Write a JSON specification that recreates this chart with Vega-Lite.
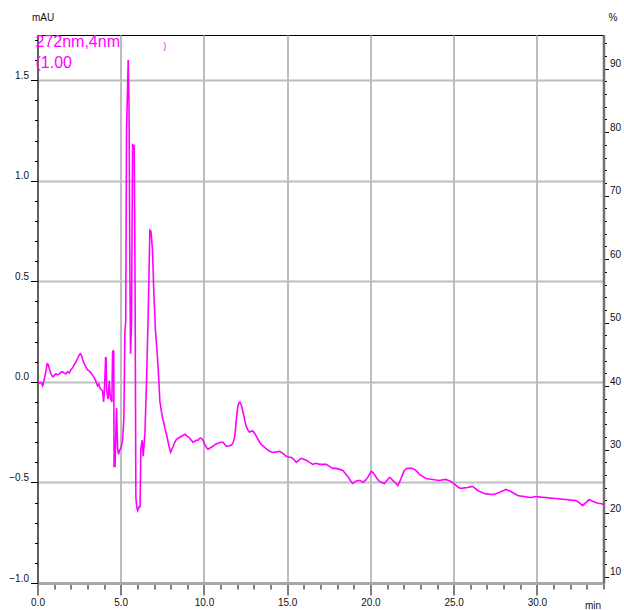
{
  "$schema": "https://vega.github.io/schema/vega-lite/v6.json",
  "width": 566,
  "height": 548,
  "autosize": {"type": "none"},
  "padding": {"left": 37.5, "top": 35, "right": 20.5, "bottom": 27},
  "background": "white",
  "config": {
    "font": "Liberation Sans",
    "view": {"stroke": "black", "strokeWidth": 1}
  },
  "layer": [
    {
      "data": {"values": [
        {"t":0.00,"v":0.005},{"t":0.10,"v":-0.005},{"t":0.21,"v":-0.003},{"t":0.31,"v":-0.02},{"t":0.41,"v":0.015},
        {"t":0.51,"v":0.055},{"t":0.58,"v":0.09},{"t":0.65,"v":0.085},{"t":0.71,"v":0.065},{"t":0.81,"v":0.04},
        {"t":0.88,"v":0.03},{"t":0.95,"v":0.025},{"t":1.03,"v":0.035},{"t":1.11,"v":0.04},{"t":1.20,"v":0.035},
        {"t":1.31,"v":0.04},{"t":1.40,"v":0.048},{"t":1.51,"v":0.05},{"t":1.60,"v":0.045},{"t":1.71,"v":0.04},
        {"t":1.80,"v":0.05},{"t":1.91,"v":0.045},{"t":2.00,"v":0.06},{"t":2.11,"v":0.07},{"t":2.20,"v":0.085},
        {"t":2.31,"v":0.10},{"t":2.40,"v":0.115},{"t":2.51,"v":0.135},{"t":2.58,"v":0.14},{"t":2.65,"v":0.13},
        {"t":2.72,"v":0.11},{"t":2.81,"v":0.09},{"t":2.90,"v":0.075},{"t":3.01,"v":0.06},{"t":3.10,"v":0.055},
        {"t":3.21,"v":0.045},{"t":3.30,"v":0.035},{"t":3.41,"v":0.02},{"t":3.50,"v":0.005},{"t":3.61,"v":-0.02},
        {"t":3.68,"v":-0.01},{"t":3.75,"v":-0.03},{"t":3.85,"v":-0.04},{"t":3.91,"v":-0.045},{"t":3.97,"v":-0.10},
        {"t":4.01,"v":-0.06},{"t":4.05,"v":0.02},{"t":4.09,"v":0.12},{"t":4.12,"v":0.12},{"t":4.15,"v":-0.03},
        {"t":4.20,"v":-0.07},{"t":4.25,"v":-0.085},{"t":4.31,"v":0.005},{"t":4.36,"v":-0.06},{"t":4.42,"v":-0.09},
        {"t":4.47,"v":-0.10},{"t":4.51,"v":0.15},{"t":4.55,"v":0.155},{"t":4.58,"v":0.15},{"t":4.60,"v":-0.42},
        {"t":4.66,"v":-0.42},{"t":4.72,"v":-0.20},{"t":4.75,"v":-0.13},{"t":4.81,"v":-0.33},{"t":4.87,"v":-0.36},
        {"t":4.93,"v":-0.34},{"t":5.01,"v":-0.33},{"t":5.11,"v":-0.29},{"t":5.19,"v":-0.18},{"t":5.25,"v":0.25},
        {"t":5.30,"v":0.30},{"t":5.35,"v":1.26},{"t":5.45,"v":1.60},{"t":5.50,"v":1.36},{"t":5.55,"v":0.54},
        {"t":5.59,"v":0.14},{"t":5.65,"v":0.30},{"t":5.71,"v":1.18},{"t":5.81,"v":1.175},{"t":5.86,"v":0.50},
        {"t":5.91,"v":-0.575},{"t":5.96,"v":-0.62},{"t":6.01,"v":-0.64},{"t":6.06,"v":-0.63},{"t":6.11,"v":-0.62},
        {"t":6.16,"v":-0.62},{"t":6.21,"v":-0.33},{"t":6.29,"v":-0.29},{"t":6.35,"v":-0.37},{"t":6.45,"v":-0.26},
        {"t":6.55,"v":0.0},{"t":6.65,"v":0.34},{"t":6.70,"v":0.54},{"t":6.75,"v":0.755},{"t":6.81,"v":0.75},
        {"t":6.85,"v":0.72},{"t":6.91,"v":0.65},{"t":6.99,"v":0.44},{"t":7.09,"v":0.25},{"t":7.21,"v":0.12},
        {"t":7.28,"v":0.02},{"t":7.35,"v":-0.095},{"t":7.43,"v":-0.14},{"t":7.51,"v":-0.18},{"t":7.58,"v":-0.20},
        {"t":7.65,"v":-0.23},{"t":7.75,"v":-0.26},{"t":7.85,"v":-0.30},{"t":7.93,"v":-0.33},{"t":8.00,"v":-0.35},
        {"t":8.07,"v":-0.335},{"t":8.15,"v":-0.32},{"t":8.24,"v":-0.30},{"t":8.35,"v":-0.285},{"t":8.45,"v":-0.28},
        {"t":8.54,"v":-0.275},{"t":8.65,"v":-0.27},{"t":8.75,"v":-0.265},{"t":8.88,"v":-0.26},{"t":8.98,"v":-0.27},
        {"t":9.07,"v":-0.275},{"t":9.14,"v":-0.28},{"t":9.24,"v":-0.29},{"t":9.34,"v":-0.30},{"t":9.44,"v":-0.295},
        {"t":9.54,"v":-0.29},{"t":9.64,"v":-0.29},{"t":9.74,"v":-0.28},{"t":9.84,"v":-0.28},{"t":9.94,"v":-0.29},
        {"t":10.04,"v":-0.31},{"t":10.14,"v":-0.325},{"t":10.24,"v":-0.335},{"t":10.34,"v":-0.33},{"t":10.44,"v":-0.325},
        {"t":10.54,"v":-0.32},{"t":10.69,"v":-0.31},{"t":10.84,"v":-0.305},{"t":10.99,"v":-0.30},{"t":11.14,"v":-0.30},
        {"t":11.24,"v":-0.31},{"t":11.34,"v":-0.32},{"t":11.49,"v":-0.318},{"t":11.64,"v":-0.315},{"t":11.74,"v":-0.305},
        {"t":11.84,"v":-0.275},{"t":11.90,"v":-0.23},{"t":11.94,"v":-0.19},{"t":11.99,"v":-0.15},{"t":12.04,"v":-0.12},
        {"t":12.10,"v":-0.105},{"t":12.16,"v":-0.10},{"t":12.22,"v":-0.11},{"t":12.28,"v":-0.125},{"t":12.34,"v":-0.15},
        {"t":12.40,"v":-0.17},{"t":12.47,"v":-0.20},{"t":12.54,"v":-0.22},{"t":12.64,"v":-0.24},{"t":12.74,"v":-0.25},
        {"t":12.84,"v":-0.245},{"t":12.94,"v":-0.245},{"t":13.04,"v":-0.255},{"t":13.14,"v":-0.27},{"t":13.24,"v":-0.285},
        {"t":13.34,"v":-0.30},{"t":13.49,"v":-0.315},{"t":13.64,"v":-0.325},{"t":13.79,"v":-0.335},{"t":13.94,"v":-0.345},
        {"t":14.09,"v":-0.35},{"t":14.24,"v":-0.35},{"t":14.39,"v":-0.348},{"t":14.54,"v":-0.345},{"t":14.74,"v":-0.355},
        {"t":14.94,"v":-0.37},{"t":15.09,"v":-0.375},{"t":15.24,"v":-0.375},{"t":15.39,"v":-0.385},{"t":15.54,"v":-0.40},
        {"t":15.69,"v":-0.39},{"t":15.84,"v":-0.38},{"t":15.99,"v":-0.385},{"t":16.14,"v":-0.39},{"t":16.34,"v":-0.40},
        {"t":16.54,"v":-0.41},{"t":16.74,"v":-0.405},{"t":16.94,"v":-0.41},{"t":17.14,"v":-0.41},{"t":17.34,"v":-0.41},
        {"t":17.54,"v":-0.42},{"t":17.74,"v":-0.43},{"t":17.94,"v":-0.43},{"t":18.14,"v":-0.435},{"t":18.34,"v":-0.44},
        {"t":18.49,"v":-0.455},{"t":18.64,"v":-0.47},{"t":18.79,"v":-0.49},{"t":18.94,"v":-0.505},{"t":19.09,"v":-0.495},
        {"t":19.24,"v":-0.49},{"t":19.39,"v":-0.49},{"t":19.54,"v":-0.50},{"t":19.69,"v":-0.49},{"t":19.84,"v":-0.475},
        {"t":19.94,"v":-0.46},{"t":20.04,"v":-0.445},{"t":20.14,"v":-0.45},{"t":20.24,"v":-0.46},{"t":20.39,"v":-0.48},
        {"t":20.54,"v":-0.495},{"t":20.69,"v":-0.50},{"t":20.84,"v":-0.505},{"t":20.99,"v":-0.49},{"t":21.14,"v":-0.475},
        {"t":21.24,"v":-0.48},{"t":21.34,"v":-0.49},{"t":21.49,"v":-0.50},{"t":21.64,"v":-0.515},{"t":21.74,"v":-0.50},
        {"t":21.84,"v":-0.48},{"t":21.94,"v":-0.46},{"t":22.04,"v":-0.44},{"t":22.19,"v":-0.43},{"t":22.34,"v":-0.43},
        {"t":22.49,"v":-0.43},{"t":22.64,"v":-0.435},{"t":22.79,"v":-0.445},{"t":22.94,"v":-0.46},{"t":23.14,"v":-0.47},
        {"t":23.34,"v":-0.48},{"t":23.54,"v":-0.483},{"t":23.74,"v":-0.485},{"t":23.94,"v":-0.488},{"t":24.14,"v":-0.49},
        {"t":24.34,"v":-0.487},{"t":24.54,"v":-0.485},{"t":24.69,"v":-0.49},{"t":24.84,"v":-0.495},{"t":24.99,"v":-0.505},
        {"t":25.14,"v":-0.515},{"t":25.29,"v":-0.525},{"t":25.44,"v":-0.53},{"t":25.64,"v":-0.527},{"t":25.84,"v":-0.525},
        {"t":25.99,"v":-0.522},{"t":26.14,"v":-0.52},{"t":26.29,"v":-0.53},{"t":26.44,"v":-0.54},{"t":26.64,"v":-0.548},
        {"t":26.84,"v":-0.555},{"t":27.09,"v":-0.558},{"t":27.34,"v":-0.56},{"t":27.54,"v":-0.556},{"t":27.74,"v":-0.55},
        {"t":27.94,"v":-0.542},{"t":28.14,"v":-0.535},{"t":28.29,"v":-0.54},{"t":28.44,"v":-0.545},{"t":28.64,"v":-0.555},
        {"t":28.84,"v":-0.565},{"t":29.04,"v":-0.568},{"t":29.24,"v":-0.57},{"t":29.44,"v":-0.573},{"t":29.64,"v":-0.575},
        {"t":29.79,"v":-0.572},{"t":29.94,"v":-0.57},{"t":30.24,"v":-0.573},{"t":30.54,"v":-0.575},{"t":30.84,"v":-0.578},
        {"t":31.14,"v":-0.58},{"t":31.44,"v":-0.583},{"t":31.74,"v":-0.585},{"t":32.04,"v":-0.588},{"t":32.34,"v":-0.59},
        {"t":32.54,"v":-0.60},{"t":32.74,"v":-0.615},{"t":32.94,"v":-0.60},{"t":33.14,"v":-0.585},{"t":33.34,"v":-0.593},
        {"t":33.54,"v":-0.60},{"t":33.70,"v":-0.605},{"t":33.84,"v":-0.605},{"t":34.00,"v":-0.61}
      ]},
      "mark": {"type": "line", "color": "#ff00ff", "strokeWidth": 1.6, "clip": true},
      "encoding": {
        "x": {
          "field": "t", "type": "quantitative",
          "scale": {"domain": [0, 34], "nice": false, "zero": false},
          "axis": {
            "values": [0,1,2,3,4,5,6,7,8,9,10,11,12,13,14,15,16,17,18,19,20,21,22,23,24,25,26,27,28,29,30,31,32,33,34],
            "labelExpr": "datum.value % 5 === 0 ? format(datum.value, '.1f') : ''",
            "tickSize": {"condition": {"test": "datum.value % 5 === 0", "value": 12}, "value": 6},
            "grid": true,
            "gridColor": "#bdbdbd",
            "gridWidth": 2,
            "gridOpacity": {"condition": {"test": "datum.value % 5 === 0", "value": 1}, "value": 0},
            "domainColor": "#a8a8a8",
            "domainWidth": 3,
            "tickColor": "black",
            "tickWidth": 1,
            "labelFontSize": 10,
            "labelColor": "#111",
            "labelPadding": 2,
            "labelFlush": false,
            "labelOverlap": false,
            "labelBound": false,
            "title": "min",
            "titleFontSize": 10,
            "titleFontWeight": "normal",
            "titleColor": "#111",
            "titleX": 555,
            "titleY": 22,
            "titleAlign": "center",
            "titleBaseline": "middle"
          }
        },
        "y": {
          "field": "v", "type": "quantitative",
          "scale": {"domain": [-1.0, 1.725], "nice": false, "zero": false},
          "axis": {
            "values": [-1.0,-0.9,-0.8,-0.7,-0.6,-0.5,-0.4,-0.3,-0.2,-0.1,0,0.1,0.2,0.3,0.4,0.5,0.6,0.7,0.8,0.9,1.0,1.1,1.2,1.3,1.4,1.5,1.6,1.7],
            "format": ".1f",
            "labelExpr": "abs(datum.value*2 - round(datum.value*2)) < 0.001 ? datum.label : ''",
            "tickSize": {"condition": {"test": "abs(datum.value*2 - round(datum.value*2)) < 0.001", "value": 7}, "value": 3},
            "grid": true,
            "gridColor": "#bdbdbd",
            "gridWidth": 2,
            "gridOpacity": {"condition": {"test": "abs(datum.value*2 - round(datum.value*2)) < 0.001", "value": 1}, "value": 0},
            "domainColor": "black",
            "domainWidth": 1,
            "tickColor": "black",
            "labelFontSize": 10,
            "labelColor": "#111",
            "labelBaseline": "bottom",
            "labelPadding": 2,
            "labelFlush": false,
            "labelOverlap": false,
            "labelBound": false,
            "title": "mAU",
            "titleAngle": 0,
            "titleFontSize": 10,
            "titleFontWeight": "normal",
            "titleColor": "#111",
            "titleX": 5,
            "titleY": -18,
            "titleAlign": "center",
            "titleBaseline": "middle"
          }
        }
      }
    },
    {
      "data": {"values": [{"p": 9}, {"p": 95.3}]},
      "mark": {"type": "point", "opacity": 0},
      "encoding": {
        "y": {
          "field": "p", "type": "quantitative",
          "scale": {"domain": [9, 95.3], "nice": false, "zero": false},
          "axis": {
            "orient": "right",
            "values": [10,12,14,16,18,20,22,24,26,28,30,32,34,36,38,40,42,44,46,48,50,52,54,56,58,60,62,64,66,68,70,72,74,76,78,80,82,84,86,88,90,92,94],
            "labelExpr": "datum.value % 10 === 0 ? datum.label : ''",
            "tickSize": {"condition": {"test": "datum.value % 10 === 0", "value": 5}, "value": 3},
            "grid": false,
            "domainColor": "#707070",
            "domainWidth": 2.5,
            "tickColor": "black",
            "labelFontSize": 10,
            "labelColor": "#111",
            "labelBaseline": "bottom",
            "labelPadding": 1,
            "labelFlush": false,
            "labelOverlap": false,
            "labelBound": false,
            "title": "%",
            "titleAngle": 0,
            "titleFontSize": 10,
            "titleFontWeight": "normal",
            "titleColor": "#111",
            "titleX": 9,
            "titleY": -18,
            "titleAlign": "center",
            "titleBaseline": "middle"
          }
        }
      }
    },
    {
      "data": {"values": [{"label": "272nm,4nm"}]},
      "mark": {"type": "text", "color": "#ff00ff", "fontSize": 16, "align": "left", "baseline": "alphabetic", "dx": -2},
      "encoding": {
        "text": {"field": "label"},
        "x": {"datum": 0, "type": "quantitative", "scale": {"domain": [0, 34], "nice": false, "zero": false}, "axis": null},
        "y": {"datum": 1.665, "type": "quantitative", "scale": {"domain": [-1.0, 1.725], "nice": false, "zero": false}, "axis": null}
      }
    },
    {
      "data": {"values": [{"label": "(1.00"}]},
      "mark": {"type": "text", "color": "#ff00ff", "fontSize": 16, "align": "left", "baseline": "alphabetic", "dx": -2},
      "encoding": {
        "text": {"field": "label"},
        "x": {"datum": 0, "type": "quantitative", "scale": {"domain": [0, 34], "nice": false, "zero": false}, "axis": null},
        "y": {"datum": 1.561, "type": "quantitative", "scale": {"domain": [-1.0, 1.725], "nice": false, "zero": false}, "axis": null}
      }
    },
    {
      "data": {"values": [{"label": ")"}]},
      "mark": {"type": "text", "color": "#ff00ff", "fontSize": 9, "align": "left", "baseline": "alphabetic"},
      "encoding": {
        "text": {"field": "label"},
        "x": {"datum": 7.55, "type": "quantitative", "scale": {"domain": [0, 34], "nice": false, "zero": false}, "axis": null},
        "y": {"datum": 1.655, "type": "quantitative", "scale": {"domain": [-1.0, 1.725], "nice": false, "zero": false}, "axis": null}
      }
    }
  ],
  "resolve": {"scale": {"x": "independent", "y": "independent"}}
}
